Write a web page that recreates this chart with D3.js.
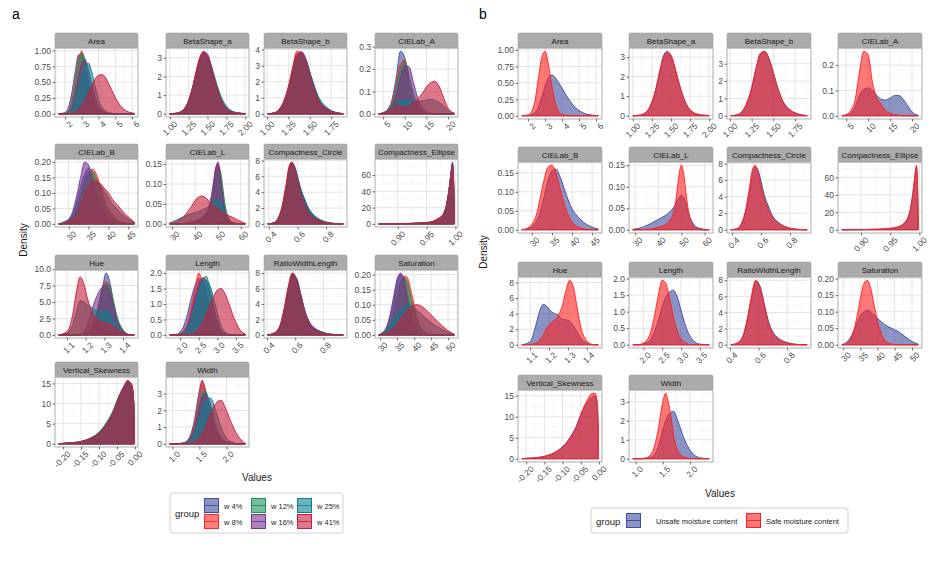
<!DOCTYPE html>
<html><head><meta charset="utf-8">
<script src="https://cdn.jsdelivr.net/npm/d3@7"></script>
<style>body{margin:0;background:#fff}svg{display:block}text{font-family:"Liberation Sans",Arial,sans-serif}</style>
</head><body><svg id="c" width="941" height="561"></svg>
<script>
// ---------------- DATA ----------------
const facetNames = ["Area","BetaShape_a","BetaShape_b","CIELab_A","CIELab_B","CIELab_L","Compactness_Circle","Compactness_Ellipse","Hue","Length","RatioWidthLength","Saturation","Vertical_Skewness","Width"];
const groupsA = ["w 4%","w 8%","w 12%","w 16%","w 25%","w 41%"];
const groupsB = ["Unsafe moisture content","Safe moisture content"];
const colorsA = ["#3D4C9E","#FF2626","#179257","#74338F","#0B7F8E","#C41E3A"];
const colorsB = ["#3D4C9E","#FF1F1F"];

// x tick labels per facet
const xTickLabels = [
  ["2","3","4","5","6"],
  ["1.00","1.25","1.50","1.75","2.00"],
  ["1.00","1.25","1.50","1.75"],
  ["5","10","15","20"],
  ["30","35","40","45"],
  ["30","40","50","60"],
  ["0.4","0.6","0.8"],
  ["0.90","0.95","1.00"],
  ["1.1","1.2","1.3","1.4"],
  ["2.0","2.5","3.0","3.5"],
  ["0.4","0.6","0.8"],
  ["30","35","40","45","50"],
  ["-0.20","-0.15","-0.10","-0.05","0.00"],
  ["1.0","1.5","2.0"]
];
// y tick labels per facet, panel a and panel b
const yTickLabelsA = [
  ["0.00","0.25","0.50","0.75","1.00"],["0","1","2","3"],["0","1","2","3","4"],["0.0","0.1","0.2","0.3"],
  ["0.00","0.05","0.10","0.15","0.20"],["0.00","0.05","0.10","0.15"],["0","2","4","6","8"],["0","20","40","60"],
  ["0.0","2.5","5.0","7.5","10.0"],["0.0","0.5","1.0","1.5","2.0"],["0","2","4","6","8"],["0.00","0.05","0.10","0.15","0.20"],
  ["0","5","10","15"],["0","1","2","3"]
];
const yTickLabelsB = [
  ["0.00","0.25","0.50","0.75","1.00"],["0","1","2","3"],["0","1","2","3"],["0.0","0.1","0.2"],
  ["0.00","0.05","0.10","0.15"],["0.00","0.05","0.10","0.15"],["0","2","4","6","8"],["0","20","40","60"],
  ["0","2","4","6","8"],["0.0","0.5","1.0","1.5","2.0"],["0","2","4","6","8"],["0.00","0.05","0.10","0.15","0.20"],
  ["0","5","10","15"],["0","1","2","3"]
];

// density evaluation points per facet
const xArea = [1.63,2.0,2.2,2.4,2.6,2.8,3.0,3.2,3.4,3.6,3.8,4.0,4.2,4.4,4.6,4.8,5.0,5.4,5.8,6.13];
const xBetaA = [1.0,1.1,1.2,1.25,1.3,1.35,1.4,1.45,1.5,1.55,1.6,1.65,1.7,1.8,1.9,2.0];
const xBetaB = [1.01,1.1,1.15,1.2,1.25,1.3,1.35,1.4,1.45,1.5,1.55,1.6,1.7,1.8,1.89];
const xLabA = [4.0,5,6,7,8,9,10,11,12,13,14,15,16,17,18,19,20,21.4];
const xLabB = [27.5,29,30,31,32,33,34,35,36,37,38,39,40,41,42,44,46.5];
const xLabL = [29,32,35,38,41,43,45,47,48,49,50,51,52,53,55,57,59,62];
const xCircle = [0.392,0.43,0.46,0.49,0.52,0.54,0.56,0.58,0.6,0.62,0.65,0.68,0.72,0.76,0.8,0.85,0.919];
const xEllipse = [0.867,0.9,0.92,0.94,0.95,0.96,0.97,0.975,0.98,0.985,0.99,0.993,0.995,0.9965,0.998];
const xHue = [1.056,1.1,1.13,1.15,1.17,1.19,1.21,1.23,1.25,1.27,1.29,1.31,1.33,1.35,1.37,1.4,1.43,1.46];
const xLength = [1.72,1.9,2.0,2.1,2.2,2.3,2.4,2.5,2.6,2.7,2.8,2.9,3.0,3.1,3.2,3.3,3.4,3.5,3.6,3.75];
const xRatio = [0.406,0.45,0.49,0.52,0.55,0.58,0.61,0.64,0.67,0.7,0.74,0.78,0.82,0.87,0.94];
const xSat = [29.6,31,32,33,34,35,36,37,38,39,40,41,42,43,44,46,48,50,51.8];
const xSkew = [-0.212,-0.2,-0.18,-0.16,-0.14,-0.12,-0.1,-0.08,-0.06,-0.05,-0.04,-0.03,-0.02,-0.01,-0.005,-0.002];
const xWidth = [0.95,1.1,1.2,1.3,1.4,1.5,1.55,1.6,1.65,1.7,1.75,1.8,1.9,2.0,2.1,2.2,2.3,2.35];

// panel a densities (w4, w8, w12, w16, w25, w41)
const aArea = [
  [0,0.02,0.1,0.32,0.65,0.93,0.94,0.72,0.46,0.26,0.13,0.06,0.03,0.01,0,0,0,0,0,0],
  [0,0.01,0.05,0.2,0.5,0.86,0.99,0.8,0.5,0.28,0.13,0.06,0.03,0.01,0,0,0,0,0,0],
  [0,0.01,0.04,0.15,0.42,0.78,0.96,0.86,0.58,0.33,0.15,0.07,0.03,0.01,0,0,0,0,0,0],
  [0,0,0.02,0.1,0.28,0.55,0.78,0.85,0.7,0.46,0.26,0.12,0.06,0.02,0.01,0,0,0,0,0],
  [0,0,0.02,0.06,0.18,0.38,0.6,0.75,0.8,0.66,0.43,0.23,0.11,0.05,0.02,0.01,0,0,0,0],
  [0,0,0,0.01,0.03,0.07,0.13,0.22,0.33,0.45,0.55,0.61,0.62,0.58,0.48,0.37,0.26,0.1,0.03,0.01]];
const aBetaA = [
  [0,0.04,0.3,0.72,1.4,2.25,3.0,3.3,3.05,2.45,1.7,1.05,0.58,0.14,0.04,0.01],
  [0,0.03,0.28,0.7,1.38,2.3,3.05,3.35,3.0,2.4,1.65,1.0,0.55,0.13,0.03,0.01],
  [0,0.04,0.3,0.68,1.3,2.15,2.95,3.25,3.1,2.5,1.75,1.1,0.6,0.15,0.04,0.01],
  [0,0.03,0.25,0.62,1.25,2.1,2.9,3.3,3.2,2.6,1.8,1.12,0.62,0.16,0.04,0.01],
  [0,0.05,0.3,0.65,1.25,2.05,2.75,3.1,3.0,2.55,1.9,1.25,0.75,0.22,0.06,0.02],
  [0,0.04,0.32,0.72,1.35,2.2,2.95,3.25,3.05,2.45,1.7,1.05,0.58,0.15,0.05,0.02]];
const aBetaB = [
  [0,0.08,0.3,0.75,1.5,2.6,3.5,3.8,3.4,2.55,1.65,0.95,0.32,0.08,0.01],
  [0,0.09,0.33,0.85,1.7,2.9,3.9,3.75,3.2,2.35,1.5,0.85,0.28,0.07,0.01],
  [0,0.08,0.3,0.78,1.55,2.7,3.6,3.8,3.4,2.5,1.6,0.92,0.3,0.08,0.01],
  [0,0.07,0.27,0.7,1.45,2.55,3.5,3.88,3.5,2.6,1.68,0.95,0.32,0.08,0.01],
  [0,0.09,0.3,0.72,1.45,2.5,3.35,3.65,3.35,2.6,1.8,1.1,0.4,0.1,0.02],
  [0,0.09,0.32,0.82,1.65,2.8,3.75,3.8,3.3,2.45,1.58,0.9,0.3,0.08,0.01]];
const aLabA = [
  [0,0.005,0.02,0.06,0.16,0.28,0.25,0.12,0.05,0.02,0.01,0.005,0,0,0,0,0,0],
  [0,0.005,0.015,0.05,0.13,0.22,0.24,0.16,0.08,0.03,0.012,0.005,0.002,0,0,0,0,0],
  [0,0.003,0.01,0.04,0.11,0.2,0.235,0.17,0.09,0.04,0.015,0.006,0.002,0,0,0,0,0],
  [0,0.002,0.01,0.03,0.08,0.16,0.215,0.21,0.14,0.07,0.03,0.01,0.003,0,0,0,0,0],
  [0,0.005,0.015,0.035,0.05,0.058,0.06,0.058,0.055,0.055,0.058,0.062,0.065,0.06,0.05,0.035,0.015,0.003],
  [0,0.003,0.01,0.025,0.04,0.035,0.03,0.035,0.05,0.068,0.09,0.12,0.14,0.145,0.12,0.07,0.025,0.003]];
const aLabB = [
  [0,0.004,0.012,0.03,0.07,0.12,0.16,0.18,0.16,0.11,0.07,0.04,0.02,0.01,0.005,0.001,0],
  [0,0.002,0.006,0.015,0.04,0.08,0.125,0.16,0.178,0.16,0.12,0.08,0.05,0.03,0.015,0.004,0],
  [0,0.003,0.008,0.02,0.05,0.095,0.14,0.165,0.17,0.145,0.105,0.07,0.04,0.02,0.01,0.003,0],
  [0,0.005,0.015,0.04,0.09,0.15,0.2,0.19,0.14,0.09,0.055,0.03,0.015,0.008,0.004,0.001,0],
  [0,0.008,0.015,0.025,0.04,0.06,0.085,0.11,0.13,0.135,0.125,0.105,0.085,0.065,0.05,0.025,0.005],
  [0,0.004,0.01,0.02,0.035,0.06,0.09,0.115,0.135,0.14,0.13,0.115,0.1,0.08,0.065,0.035,0.006]];
const aLabL = [
  [0,0,0.001,0.003,0.007,0.012,0.022,0.05,0.085,0.13,0.155,0.13,0.08,0.04,0.008,0.002,0,0],
  [0,0,0.001,0.003,0.008,0.014,0.025,0.055,0.09,0.13,0.15,0.135,0.09,0.045,0.01,0.002,0,0],
  [0,0,0.001,0.003,0.006,0.01,0.02,0.045,0.075,0.115,0.14,0.135,0.1,0.055,0.012,0.002,0,0],
  [0,0,0.001,0.004,0.01,0.016,0.03,0.065,0.1,0.14,0.15,0.12,0.075,0.035,0.007,0.001,0,0],
  [0.002,0.01,0.018,0.025,0.03,0.035,0.04,0.048,0.055,0.06,0.06,0.055,0.045,0.03,0.01,0.003,0.001,0],
  [0.001,0.006,0.018,0.04,0.065,0.07,0.064,0.052,0.046,0.042,0.038,0.034,0.03,0.026,0.02,0.015,0.009,0.001]];
const aCircle = [
  [0,0.1,0.5,1.8,4.5,6.8,7.7,7.1,5.7,4.2,2.7,1.5,0.8,0.42,0.18,0.05,0],
  [0,0.12,0.6,2.1,5.0,7.2,7.8,6.9,5.4,4.0,2.6,1.5,0.8,0.42,0.2,0.06,0],
  [0,0.1,0.5,1.8,4.4,6.7,7.7,7.2,5.8,4.4,2.9,1.7,0.9,0.45,0.2,0.05,0],
  [0,0.08,0.45,1.7,4.2,6.5,7.6,7.2,6.0,4.6,3.1,1.9,1.0,0.5,0.22,0.06,0],
  [0,0.1,0.5,1.8,4.3,6.5,7.5,7.1,5.9,4.5,3.0,1.8,1.0,0.5,0.22,0.07,0],
  [0,0.1,0.55,2.0,4.8,7.1,7.8,7.0,5.5,3.9,2.4,1.3,0.7,0.35,0.15,0.04,0]];
const aEllipse = [
  [0,0.2,0.5,1.0,1.6,2.5,5,8,13,25,48,66,75,60,18],
  [0,0.3,0.6,1.1,1.7,3.0,7,9,13,24,46,64,72,58,17],
  [0,0.2,0.5,1.0,1.5,2.4,4.8,7.5,12.5,24,47,65,73,59,18],
  [0,0.2,0.4,0.9,1.4,2.2,4.5,7,12,24,48,67,76,61,19],
  [0,0.2,0.5,1.0,1.6,2.6,5.2,8.2,13.5,25,47,64,72,58,17],
  [0,0.25,0.55,1.1,1.7,2.8,5.8,8.5,13.5,25,47,64,73,59,18]];
const aHue = [
  [0,0,0,0,0.02,0.1,0.3,0.8,2,4.2,7.2,9.4,8,4.6,2,0.6,0.05,0],
  [0,0,0,0.01,0.05,0.15,0.4,1,2.4,4.8,7.3,8.1,7.2,4.8,2.4,0.7,0.06,0],
  [0,0,0,0.01,0.04,0.12,0.35,0.9,2.2,4.5,7.0,7.8,7.3,5.0,2.6,0.8,0.07,0],
  [0,0,0,0.02,0.1,0.4,1.6,3.5,5.2,6.5,7.3,7.5,6.5,4.2,2,0.6,0.05,0],
  [0,0.3,1.5,3.5,5.2,5,4.6,4.2,3.8,3.5,3.6,3.7,3.3,2.3,1.3,0.4,0.05,0],
  [0,0.5,3,6.5,8.8,7.8,5.5,3.8,2.8,2.2,1.9,1.8,1.6,1.3,0.8,0.3,0.02,0]];
const aLength = [
  [0,0.02,0.1,0.3,0.7,1.2,1.6,1.82,1.75,1.4,0.9,0.5,0.2,0.08,0.02,0,0,0,0,0],
  [0,0.01,0.05,0.15,0.4,0.9,1.5,2.0,1.7,1.3,0.85,0.45,0.2,0.08,0.02,0,0,0,0,0],
  [0,0,0.02,0.08,0.25,0.55,1.0,1.55,1.8,1.9,1.5,0.9,0.45,0.15,0.05,0.01,0,0,0,0],
  [0,0,0.02,0.1,0.3,0.7,1.2,1.65,1.85,1.75,1.35,0.8,0.35,0.12,0.04,0.01,0,0,0,0],
  [0,0,0.02,0.06,0.2,0.5,0.95,1.4,1.7,1.75,1.6,1.2,0.7,0.3,0.1,0.03,0,0,0,0],
  [0,0,0,0,0.01,0.03,0.08,0.2,0.4,0.65,0.95,1.25,1.45,1.5,1.35,1.05,0.7,0.4,0.18,0.03]];
const aRatio = [
  [0,0.2,1.0,3.0,5.8,7.9,7.2,5.0,2.9,1.6,0.8,0.4,0.18,0.05,0],
  [0,0.25,1.1,3.3,6.2,8.0,6.9,4.6,2.5,1.2,0.6,0.3,0.14,0.04,0],
  [0,0.2,1.0,3.0,5.8,7.9,7.3,5.1,2.9,1.5,0.7,0.35,0.15,0.04,0],
  [0,0.18,0.9,2.8,5.5,7.7,7.3,5.3,3.1,1.7,0.85,0.45,0.2,0.06,0],
  [0,0.2,0.95,2.9,5.6,7.8,7.2,5.0,2.8,1.4,0.8,0.45,0.2,0.06,0],
  [0,0.22,1.05,3.1,6.0,8.0,7.1,4.9,2.7,1.4,0.7,0.35,0.15,0.04,0]];
const aSat = [
  [0,0.008,0.025,0.06,0.11,0.17,0.2,0.19,0.14,0.08,0.035,0.015,0.006,0.002,0,0,0,0,0],
  [0,0.004,0.012,0.03,0.065,0.115,0.165,0.195,0.19,0.15,0.1,0.05,0.022,0.01,0.004,0,0,0,0],
  [0,0.005,0.014,0.035,0.075,0.13,0.175,0.19,0.175,0.13,0.08,0.04,0.018,0.008,0.003,0,0,0,0],
  [0,0.01,0.03,0.07,0.13,0.185,0.205,0.18,0.12,0.065,0.03,0.012,0.005,0.002,0,0,0,0,0],
  [0,0.01,0.02,0.035,0.055,0.07,0.082,0.092,0.1,0.098,0.09,0.08,0.07,0.06,0.05,0.033,0.02,0.009,0.001],
  [0,0.004,0.008,0.015,0.025,0.038,0.052,0.068,0.082,0.093,0.099,0.1,0.096,0.088,0.078,0.055,0.033,0.014,0.002]];
const aSkew = [
  [0,0.1,0.2,0.4,0.8,1.5,2.7,4.8,8,10.3,12.3,14,15.3,14.6,12.2,7],
  [0,0.1,0.2,0.4,0.8,1.5,2.6,4.7,7.9,10.4,12.5,14.1,15.4,14.8,12.5,7.2],
  [0,0.1,0.2,0.4,0.8,1.5,2.7,4.9,8.1,10.5,12.4,13.9,15.2,14.5,12.1,6.9],
  [0,0.1,0.2,0.4,0.7,1.4,2.6,4.7,8,10.6,12.8,14.5,15.8,14.4,11.8,6.8],
  [0,0.15,0.25,0.45,0.85,1.6,2.9,5.2,8.4,10.6,12.3,13.7,15,14.7,12.4,7.2],
  [0,0.1,0.2,0.4,0.8,1.5,2.7,4.8,8,10.4,12.4,14,15.5,15,12.6,7.3]];
const aWidth = [
  [0,0.01,0.05,0.3,1.3,3.2,3.8,3.3,2.4,1.6,1.0,0.6,0.2,0.06,0.01,0,0,0],
  [0,0.01,0.04,0.25,1.1,2.9,3.7,3.4,2.6,1.8,1.2,0.7,0.25,0.08,0.02,0,0,0],
  [0,0.02,0.05,0.2,0.9,2.4,3.0,3.2,2.9,2.3,1.5,0.9,0.35,0.1,0.03,0,0,0],
  [0,0,0.03,0.15,0.8,2.2,2.8,3.0,2.8,2.4,1.8,1.1,0.4,0.12,0.03,0,0,0],
  [0,0,0.02,0.1,0.5,1.5,2.1,2.5,2.6,2.75,2.5,2.0,1.0,0.35,0.1,0.02,0,0],
  [0,0,0,0.02,0.1,0.35,0.6,0.9,1.3,1.7,2.1,2.4,2.6,2.0,1.2,0.55,0.15,0.02]];

// panel b densities (unsafe, safe)
const bArea = [
  [0,0.01,0.02,0.05,0.13,0.28,0.45,0.58,0.62,0.58,0.5,0.42,0.33,0.25,0.18,0.12,0.08,0.03,0.01,0],
  [0,0.01,0.06,0.22,0.56,0.88,0.98,0.78,0.45,0.2,0.07,0.02,0.01,0,0,0,0,0,0,0]];
const bBetaA = [
  [0,0.04,0.3,0.7,1.35,2.25,3.05,3.3,3.05,2.45,1.72,1.08,0.6,0.15,0.04,0.01],
  [0,0.04,0.3,0.7,1.33,2.2,2.95,3.22,3.1,2.5,1.75,1.1,0.6,0.15,0.04,0.02]];
const bBetaB = [
  [0,0.08,0.3,0.78,1.55,2.65,3.55,3.72,3.3,2.5,1.62,0.95,0.32,0.08,0.01],
  [0,0.09,0.32,0.82,1.62,2.75,3.6,3.7,3.25,2.45,1.6,0.92,0.3,0.08,0.01]];
const bLabA = [
  [0,0.003,0.01,0.035,0.08,0.105,0.11,0.1,0.08,0.065,0.062,0.07,0.08,0.08,0.065,0.04,0.015,0.002],
  [0,0.005,0.02,0.06,0.17,0.255,0.24,0.13,0.07,0.045,0.02,0.01,0.005,0.002,0,0,0,0]];
const bLabB = [
  [0,0.003,0.008,0.02,0.045,0.085,0.13,0.155,0.16,0.14,0.11,0.08,0.055,0.04,0.028,0.012,0.002],
  [0,0.005,0.014,0.035,0.08,0.13,0.165,0.17,0.15,0.11,0.07,0.04,0.02,0.01,0.005,0.001,0]];
const bLabL = [
  [0.001,0.004,0.01,0.018,0.027,0.033,0.042,0.055,0.065,0.075,0.08,0.075,0.06,0.04,0.015,0.005,0.002,0],
  [0,0,0.001,0.003,0.007,0.012,0.022,0.05,0.085,0.13,0.15,0.13,0.085,0.045,0.01,0.002,0,0]];
const bCircle = [
  [0,0.1,0.5,1.8,4.4,6.6,7.6,7.2,5.9,4.4,2.9,1.7,0.9,0.45,0.2,0.06,0],
  [0,0.12,0.6,2.1,5.0,7.2,7.8,6.9,5.4,3.9,2.5,1.4,0.75,0.4,0.18,0.05,0]];
const bEllipse = [
  [0,0.2,0.5,1.0,1.6,2.6,5.2,8.2,13,25,47,64,72,58,17],
  [0,0.25,0.55,1.1,1.7,2.8,5.5,8.5,13.5,25,48,66,74,60,18]];
const bHue = [
  [0,0.4,2.5,4.3,5.2,4.9,4.3,4.0,3.8,3.3,3.2,3.0,2.4,1.6,0.8,0.2,0.02,0],
  [0,0.05,0.2,0.6,1.3,2.2,2.8,3.2,3.8,5.0,7.0,8.3,7.3,4.6,2.1,0.5,0.04,0]];
const bLength = [
  [0,0,0.02,0.06,0.18,0.4,0.75,1.15,1.45,1.6,1.65,1.45,1.05,0.65,0.35,0.16,0.06,0.02,0.01,0],
  [0,0.01,0.05,0.15,0.4,0.9,1.5,1.95,1.85,1.4,0.85,0.42,0.18,0.07,0.02,0,0,0,0,0]];
const bRatio = [
  [0,0.2,1.0,3.0,5.7,7.9,7.3,5.1,2.9,1.6,0.8,0.4,0.18,0.05,0],
  [0,0.22,1.05,3.1,6.0,8.0,7.0,4.8,2.6,1.3,0.65,0.32,0.14,0.04,0]];
const bSat = [
  [0,0.008,0.02,0.04,0.065,0.088,0.1,0.105,0.1,0.09,0.08,0.07,0.062,0.055,0.05,0.04,0.025,0.01,0.002],
  [0,0.005,0.015,0.04,0.085,0.14,0.185,0.195,0.17,0.12,0.07,0.035,0.015,0.006,0.002,0,0,0,0]];
const bSkew = [
  [0,0.1,0.2,0.4,0.8,1.6,2.9,5.0,8.2,10.5,12.3,13.6,14.6,15,13.8,8],
  [0,0.1,0.2,0.4,0.8,1.5,2.7,4.8,8,10.5,12.6,14.3,15.5,15.6,12.5,7.2]];
const bWidth = [
  [0,0,0.02,0.1,0.5,1.5,2.0,2.3,2.45,2.5,2.2,1.8,1.0,0.45,0.15,0.04,0.01,0],
  [0,0.01,0.05,0.3,1.3,3.0,3.45,3.0,2.2,1.2,0.6,0.3,0.08,0.02,0,0,0,0]];

const xGrids = [xArea,xBetaA,xBetaB,xLabA,xLabB,xLabL,xCircle,xEllipse,xHue,xLength,xRatio,xSat,xSkew,xWidth];
const densA = [aArea,aBetaA,aBetaB,aLabA,aLabB,aLabL,aCircle,aEllipse,aHue,aLength,aRatio,aSat,aSkew,aWidth];
const densB = [bArea,bBetaA,bBetaB,bLabA,bLabB,bLabL,bCircle,bEllipse,bHue,bLength,bRatio,bSat,bSkew,bWidth];

// ---------------- DRAW ----------------
const svg = d3.select("#c");
const FONT = "Liberation Sans, Arial, sans-serif";

const layoutA = {cols:[55,166,264,375], rows:[33,144,255,362], w:83, stripH:15, plotH:[69,68,68,70]};
const layoutB = {cols:[518,629,727,838], rows:[33,147,262,375], w:84, stripH:15, plotH:[71,71,71,72]};

function drawPanel(layout, dens, colors){
  facetNames.forEach((name, i) => {
    const c = i % 4, r = Math.floor(i / 4);
    const x0 = layout.cols[c], y0 = layout.rows[r] + layout.stripH;
    const w = layout.w, h = layout.plotH[r];
    const g = svg.append("g").attr("transform", `translate(${x0},${y0})`);
    const xs = xGrids[i];
    const xmin = d3.min(xs), xmax = d3.max(xs), xr = xmax - xmin;
    const x = d3.scaleLinear().domain([xmin - 0.05*xr, xmax + 0.05*xr]).range([0, w]);
    const ymax = d3.max(dens[i], s => d3.max(s));
    const y = d3.scaleLinear().domain([-0.05*ymax, 1.05*ymax]).range([h, 0]);
    const xt = xTickLabels[i].map(Number);
    const ytLabels = (colors.length === 6 ? yTickLabelsA : yTickLabelsB)[i];
    const yt = ytLabels.map(Number);
    g.append("rect").attr("width", w).attr("height", h).attr("fill", "#fff");
    // minor grid
    const xstep = xt[1] - xt[0], ystep = yt[1] - yt[0];
    const xd = x.domain(), yd = y.domain();
    const xminor = d3.range(xt[0] - xstep*3.5, xt[xt.length-1] + xstep*3, xstep).filter(v => v > xd[0] && v < xd[1]);
    const yminor = d3.range(yt[0] - ystep*0.5, yt[yt.length-1] + ystep*3, ystep).filter(v => v > yd[0] && v < yd[1]);
    g.selectAll(".xm").data(xminor).enter().append("line")
      .attr("x1", d => x(d)).attr("x2", d => x(d)).attr("y1", 0).attr("y2", h)
      .attr("stroke", "#F2F2F2").attr("stroke-width", 0.6);
    g.selectAll(".ym").data(yminor).enter().append("line")
      .attr("y1", d => y(d)).attr("y2", d => y(d)).attr("x1", 0).attr("x2", w)
      .attr("stroke", "#F2F2F2").attr("stroke-width", 0.6);
    g.selectAll(".xg").data(xt).enter().append("line")
      .attr("x1", d => x(d)).attr("x2", d => x(d)).attr("y1", 0).attr("y2", h)
      .attr("stroke", "#E4E4E4").attr("stroke-width", 1);
    g.selectAll(".yg").data(yt).enter().append("line")
      .attr("y1", d => y(d)).attr("y2", d => y(d)).attr("x1", 0).attr("x2", w)
      .attr("stroke", "#E4E4E4").attr("stroke-width", 1);
    // densities
    const area = d3.area().x(d => x(d[0])).y0(y(0)).y1(d => y(d[1])).curve(d3.curveMonotoneX);
    const clip = "clip" + (colors.length) + "_" + i;
    g.append("clipPath").attr("id", clip).append("rect").attr("width", w).attr("height", h);
    const dg = g.append("g").attr("clip-path", `url(#${clip})`);
    dens[i].forEach((vals, k) => {
      const pts = xs.map((xv, j) => [xv, vals[j]]);
      dg.append("path").attr("d", area(pts))
        .attr("fill", colors[k]).attr("fill-opacity", 0.6)
        .attr("stroke", colors[k]).attr("stroke-width", 0.9);
    });
    // border
    g.append("rect").attr("width", w).attr("height", h).attr("fill", "none").attr("stroke", "#9A9A9A").attr("stroke-width", 0.8);
    // strip
    svg.append("rect").attr("x", x0).attr("y", layout.rows[r]).attr("width", w).attr("height", layout.stripH)
      .attr("rx", 1.5).attr("fill", "#ABABAB").attr("stroke", "#9A9A9A").attr("stroke-width", 0.5);
    svg.append("text").attr("x", x0 + w/2).attr("y", layout.rows[r] + layout.stripH/2 + 3)
      .attr("text-anchor", "middle").attr("font-size", 8).attr("fill", "#1A1A1A").text(name);
    // axes
    const ya = g.append("g").call(d3.axisLeft(y).tickValues(yt).tickFormat((d, j) => ytLabels[j]).tickSize(2.5).tickPadding(1.5));
    const xa = g.append("g").attr("transform", `translate(0,${h})`)
      .call(d3.axisBottom(x).tickValues(xt).tickFormat((d, j) => xTickLabels[i][j]).tickSize(2.5).tickPadding(1));
    [ya, xa].forEach(a => {
      a.select(".domain").remove();
      a.selectAll("line").attr("stroke", "#333").attr("stroke-width", 0.7);
      a.selectAll("text").attr("font-size", 8.5).attr("fill", "#4D4D4D").attr("font-family", FONT);
    });
    xa.selectAll("text").attr("text-anchor", "end").attr("dy", "0.35em")
      .attr("transform", "translate(3,3) rotate(-45)");
  });
}

drawPanel(layoutA, densA, colorsA);
drawPanel(layoutB, densB, colorsB);

// panel letters
svg.append("text").attr("x", 12).attr("y", 19).attr("font-family", "Liberation Serif, serif").attr("font-size", 14).text("a");
svg.append("text").attr("x", 479).attr("y", 19).attr("font-family", "Liberation Serif, serif").attr("font-size", 14).text("b");

// axis titles
svg.append("text").attr("transform", "translate(27,240) rotate(-90)").attr("text-anchor", "middle").attr("font-size", 10).attr("fill", "#1A1A1A").text("Density");
svg.append("text").attr("transform", "translate(487,252) rotate(-90)").attr("text-anchor", "middle").attr("font-size", 10).attr("fill", "#1A1A1A").text("Density");
svg.append("text").attr("x", 257).attr("y", 481).attr("text-anchor", "middle").attr("font-size", 10).attr("fill", "#1A1A1A").text("Values");
svg.append("text").attr("x", 720).attr("y", 497).attr("text-anchor", "middle").attr("font-size", 10).attr("fill", "#1A1A1A").text("Values");

// legends
function swatch(gx, gy, col){
  const s = svg.append("g").attr("transform", `translate(${gx},${gy})`);
  s.append("rect").attr("width", 15).attr("height", 15).attr("fill", "#fff");
  s.append("rect").attr("x", 0.5).attr("y", 0.5).attr("width", 14).attr("height", 14)
    .attr("fill", col).attr("fill-opacity", 0.6).attr("stroke", col).attr("stroke-width", 1);
  s.append("line").attr("x1", 0.5).attr("x2", 14.5).attr("y1", 7.5).attr("y2", 7.5).attr("stroke", col).attr("stroke-width", 0.9);
}
svg.append("rect").attr("x", 170).attr("y", 493).attr("width", 173).attr("height", 40).attr("rx", 3)
  .attr("fill", "#fff").attr("stroke", "#D0D0D0");
svg.append("text").attr("x", 175).attr("y", 517).attr("font-size", 9.5).attr("fill", "#1A1A1A").text("group");
const legCols = [204, 251, 297];
groupsA.forEach((gname, k) => {
  const col = Math.floor(k / 2), row = k % 2;
  const sx = legCols[col], sy = 498 + row * 16;
  swatch(sx, sy, colorsA[k]);
  svg.append("text").attr("x", sx + 20).attr("y", sy + 11).attr("font-size", 7.5).attr("fill", "#1A1A1A").text(gname);
});
svg.append("rect").attr("x", 591).attr("y", 508).attr("width", 257).attr("height", 25).attr("rx", 3)
  .attr("fill", "#fff").attr("stroke", "#D0D0D0");
svg.append("text").attr("x", 596).attr("y", 525).attr("font-size", 9.5).attr("fill", "#1A1A1A").text("group");
swatch(626, 513, colorsB[0]);
svg.append("text").attr("x", 656).attr("y", 524).attr("font-size", 7.5).attr("fill", "#1A1A1A").text(groupsB[0]);
swatch(746, 513, colorsB[1]);
svg.append("text").attr("x", 766).attr("y", 524).attr("font-size", 7.5).attr("fill", "#1A1A1A").text(groupsB[1]);
</script></body></html>
